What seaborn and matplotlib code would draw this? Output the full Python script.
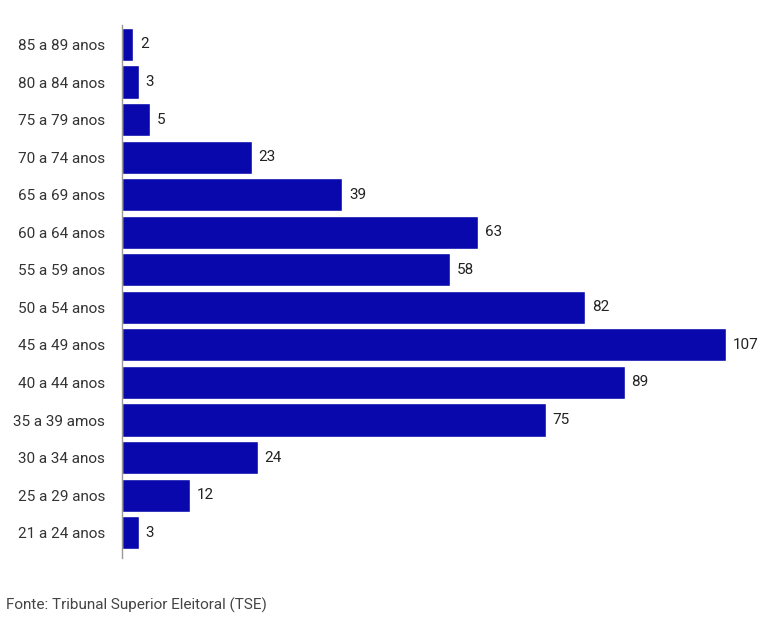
import matplotlib
matplotlib.use("Agg")
import matplotlib.pyplot as plt
import pandas as pd
import seaborn as sns

faixas = ["85 a 89 anos", "80 a 84 anos", "75 a 79 anos", "70 a 74 anos",
          "65 a 69 anos", "60 a 64 anos", "55 a 59 anos", "50 a 54 anos",
          "45 a 49 anos", "40 a 44 anos", "35 a 39 amos", "30 a 34 anos",
          "25 a 29 anos", "21 a 24 anos"]
valores = [2, 3, 5, 23, 39, 63, 58, 82, 107, 89, 75, 24, 12, 3]

sns.set_style("white")
plt.rcParams["font.family"] = ["Roboto", "DejaVu Sans"]

df = pd.DataFrame({"faixa": faixas, "valor": valores})

fig = plt.figure(figsize=(7.69, 6.23), dpi=100)
ax = fig.add_axes([0.1586, 0.104, 0.83, 0.856])
sns.barplot(data=df, x="valor", y="faixa", order=faixas, color="#0808ad",
            saturation=1, width=0.88, ax=ax)

for i, v in enumerate(valores):
    ax.text(v + 1.2, i, str(v), va="center", ha="left", fontsize=11, color="#222222")

ax.set_xlim(0, 113)
ax.set_ylim(13.68, -0.52)
ax.set_xlabel("")
ax.set_ylabel("")
ax.set_xticks([])
ax.tick_params(axis="y", length=0, labelsize=11, labelcolor="#333333", pad=12)
for s in ["top", "right", "bottom"]:
    ax.spines[s].set_visible(False)
ax.spines["left"].set_color("#999999")
ax.spines["left"].set_linewidth(1)

fig.text(0.008, 0.028, "Fonte: Tribunal Superior Eleitoral (TSE)", fontsize=11,
         color="#444444", ha="left", va="center")

fig.savefig("out.png", dpi=100)
